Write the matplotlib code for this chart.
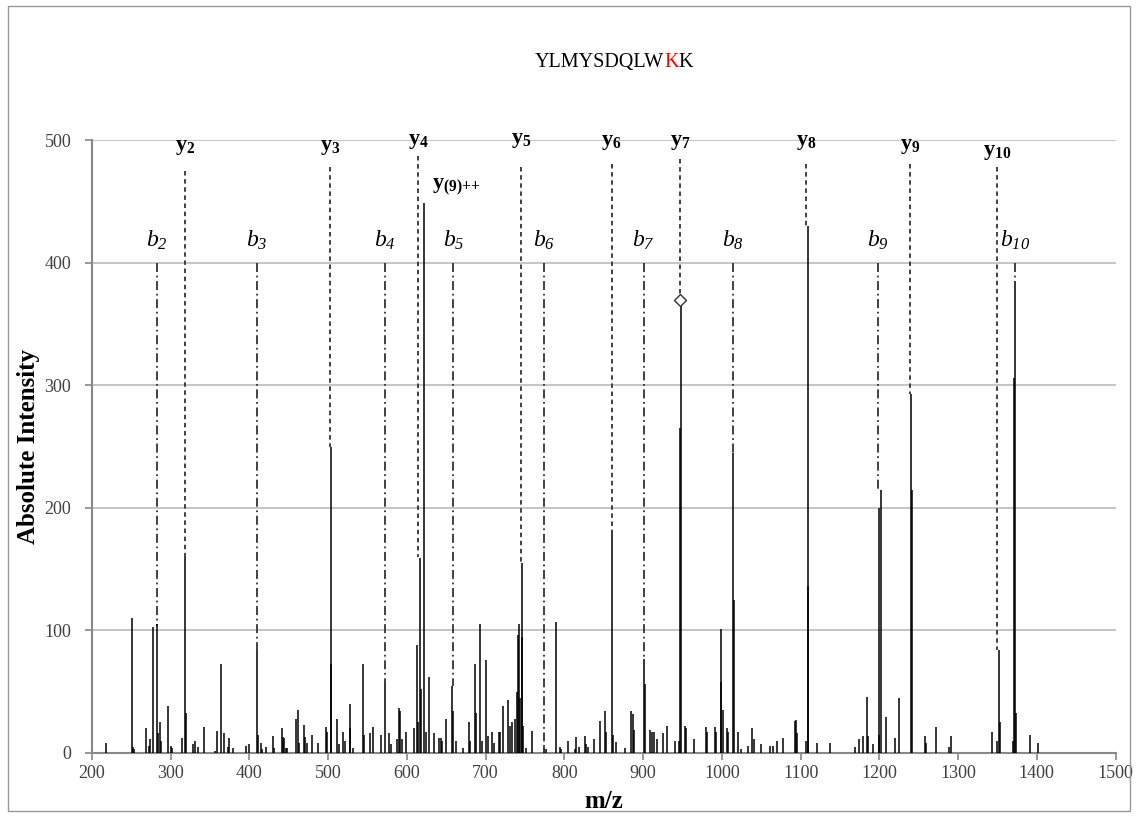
import numpy as np
import matplotlib
matplotlib.use("Agg")
import matplotlib.pyplot as plt
from matplotlib.patches import Rectangle

plt.rcParams['font.family'] = ['Liberation Serif', 'DejaVu Serif']
plt.rcParams['mathtext.fontset'] = 'custom'
plt.rcParams['mathtext.rm'] = 'Liberation Serif'
plt.rcParams['mathtext.it'] = 'Liberation Serif:italic'
plt.rcParams['mathtext.bf'] = 'Liberation Serif:bold'
plt.rcParams['mathtext.sf'] = 'Liberation Serif:italic'  # used for italic digits in b subscripts

# peak list (m/z, absolute intensity)
peak_mz = [217.8, 250.4, 251.5, 253, 268, 272, 274, 277.9, 282, 284, 286.3, 288, 296, 300, 302,
           313.9, 318, 319.5, 328.6, 331, 335, 342,
           356, 359, 364, 368, 373, 374.5, 379, 396, 399, 409.5, 410.5, 414, 416, 421, 429.8, 431,
           440.8, 442, 444, 446, 448, 459, 461.9, 463, 469, 471, 473, 480, 487, 496.6, 498,
           503, 504, 510.6, 514, 519, 521, 527.5, 528, 532, 544.4, 545.5, 553, 557, 566.9, 572.5,
           577.5, 580, 587.6, 590, 591.6, 594, 598.6, 609, 613, 614.5, 617, 618, 621.5, 624, 628,
           634.5, 641, 643, 645, 649,
           657.8, 659, 662, 670.6, 678.6, 680, 686, 687.5, 693, 695, 701, 702.5, 707.4, 711, 717,
           718.5, 722, 728.5, 731, 734, 737, 740, 741, 742, 743, 745.6, 746.5, 748, 751, 759, 774,
           776, 789, 794, 796,
           804.7, 813, 815, 819, 826, 828, 830, 837.4, 845, 851, 852.5, 860.5, 861.5, 865, 876.6,
           885, 886.6, 888, 900.8, 902, 908.4, 911, 913.5, 917, 925, 930, 940, 945, 946.5, 948.6,
           952.8, 954, 964.6, 980, 981.5, 991, 992.5, 998.5, 999.5, 1001, 1006.5, 1008, 1014, 1016,
           1021, 1024, 1033, 1038.6, 1041, 1050, 1060.7, 1065, 1070.5, 1077.6, 1092.5, 1094, 1096,
           1107, 1109, 1110, 1120.7, 1137, 1168.6, 1173.7, 1179, 1184.3, 1186, 1191.9, 1199, 1200,
           1202.5, 1208.8, 1219.4, 1224.9, 1240, 1241, 1257.5, 1259, 1272, 1288, 1290.6, 1343,
           1350, 1352, 1353.5, 1370, 1371, 1372, 1373, 1390.8, 1402]
peak_int = [8, 110, 5, 3, 20, 6, 11, 103, 105, 16, 25, 10, 38, 6, 4,
            12, 160, 33, 7, 10, 5, 21,
            2, 18, 73, 16, 5, 12, 4, 6, 7, 84, 15, 8, 3, 5, 14, 4,
            20, 13, 12, 4, 4, 28, 35, 8, 23, 13, 8, 15, 8, 21, 17,
            250, 73, 28, 7, 17, 10, 40, 20, 4, 73, 15, 16, 21, 15, 58,
            16, 7, 11, 37, 34, 11, 17, 20, 88, 25, 159, 52, 449, 17, 62,
            16, 12, 12, 10, 28,
            55, 34, 10, 4, 25, 10, 73, 33, 105, 10, 76, 14, 17, 8, 17,
            17, 38, 43, 22, 25, 28, 50, 96, 105, 45, 155, 95, 22, 4, 18, 5,
            3, 107, 5, 3,
            10, 3, 13, 5, 14, 7, 5, 11, 26, 34, 17, 180, 15, 9, 4,
            34, 32, 19, 77, 56, 19, 17, 17, 11, 16, 22, 10, 10, 265, 370,
            22, 20, 11, 21, 17, 21, 17, 101, 58, 35, 20, 17, 245, 125,
            17, 3, 6, 20, 11, 7, 6, 6, 10, 12, 26, 27, 16,
            10, 430, 136, 8, 8, 5, 11, 14, 46, 14, 7, 15, 200,
            215, 29, 12, 45, 293, 215, 14, 8, 21, 5, 14, 17,
            10, 84, 25, 10, 306, 385, 33, 15, 8]

# y-ion annotations: label, m/z, line top, line bottom, label height
y_labels = ['2', '3', '4', '5', '6', '7', '8', '9', '10']
y_mz = [318, 502, 614, 745, 860, 947, 1107, 1239, 1349]
y_top = [475, 478, 487, 478, 481, 485, 481, 481, 478]
y_end = [160, 250, 160, 155, 180, 370, 430, 293, 84]
y_text = [494, 494, 499, 500, 498, 498, 498, 495, 490]

# b-ion annotations
b_labels = ['2', '3', '4', '5', '6', '7', '8', '9', '10']
b_mz = [282, 409.5, 572.5, 659, 774, 900.5, 1014, 1198.5, 1372]
b_top = [400, 400, 400, 400, 400, 400, 400, 400, 400]
b_end = [104, 84, 58, 55, 5, 77, 245, 215, 385]

fig = plt.figure(figsize=(11.36, 8.18), dpi=100)
ax = fig.add_axes([0.081, 0.0795, 0.901, 0.749])

ax.vlines(peak_mz, 0, peak_int, color='black', lw=1.1, zorder=3)

for lab, mz, top, end, ty in zip(y_labels, y_mz, y_top, y_end, y_text):
    ax.plot([mz, mz], [top, end], color='#333333', lw=1.3, linestyle=(0, (2.5, 2)), zorder=2)
    ax.text(mz, ty, '$\\mathbf{y}_{\\mathbf{%s}}$' % lab, ha='center', va='center', fontsize=16)

for lab, mz, top, end in zip(b_labels, b_mz, b_top, b_end):
    ax.plot([mz, mz], [top, end], color='#333333', lw=1.3, linestyle=(0, (5, 2, 1, 2)), zorder=2)
    ax.text(mz, 418, '$\\mathit{b}_{\\mathsf{%s}}$' % lab, ha='center', va='center', fontsize=17)

# doubly charged y9 label and marker on y7
ax.text(632, 462, '$\\mathbf{y}_{\\mathbf{(9){+}{+}}}$', ha='left', va='center', fontsize=16)
ax.plot([946.5], [370], marker='D', markersize=6, mfc='white', mec='#333333', mew=1, zorder=4)

ax.set_xlim(200, 1500)
ax.set_ylim(0, 500)
ax.set_xticks(np.arange(200, 1501, 100))
ax.set_yticks(np.arange(0, 501, 100))
ax.yaxis.grid(True, color='#bbbbbb', lw=1.2)
ax.set_axisbelow(True)
for s in ['top', 'right']:
    ax.spines[s].set_visible(False)
for s in ['left', 'bottom']:
    ax.spines[s].set_color('#888888')
    ax.spines[s].set_linewidth(1.5)
ax.tick_params(axis='both', colors='#888888', labelcolor='#404040', labelsize=13,
               direction='out', length=5, width=1.2)
ax.tick_params(axis='y', pad=10)

ax.set_xlabel('m/z', fontsize=18, fontweight='bold', labelpad=6)
ax.set_ylabel('Absolute Intensity', fontsize=18, fontweight='bold')
ax.yaxis.set_label_coords(-0.051, 0.5)

# title with the modified lysine in red
t1 = fig.text(0.471, 0.924, 'YLMYSDQLW', fontsize=14.5, ha='left', va='center')
t2 = ax.annotate('K', xy=(1, 0), xycoords=t1, va='bottom', fontsize=14.5, color='red')
ax.annotate('K', xy=(1, 0), xycoords=t2, va='bottom', fontsize=14.5)

fig.add_artist(Rectangle((0.007, 0.008), 0.988, 0.985, transform=fig.transFigure,
                         fill=False, ec='#999999', lw=1))

fig.savefig('out.png', dpi=100)
